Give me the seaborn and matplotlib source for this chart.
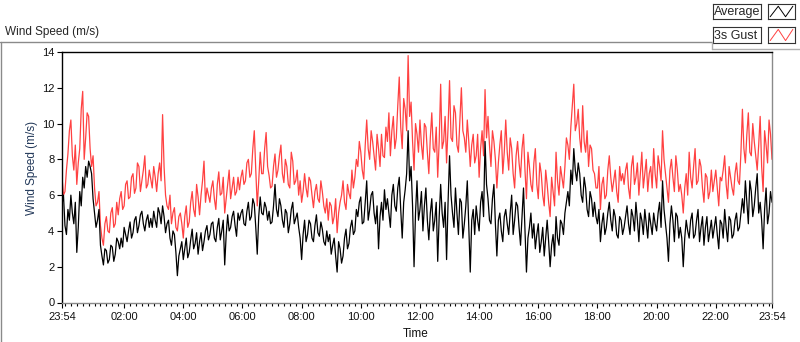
import pandas as pd
import matplotlib
matplotlib.use('Agg')
import matplotlib.pyplot as plt
import matplotlib.dates as mdates
from matplotlib.lines import Line2D
import seaborn as sns

# readings every 3 minutes, 23:54 -> 23:54 next day
start = '2015-06-01 23:54'
step = '3min'

# readings on the 6-minute marks (one row per hour)
avg_a = [
    5.5, 4.3, 5.2, 6.0, 4.4, 2.8, 6.2, 7.0, 7.6, 7.9,
    7.2, 5.0, 4.6, 3.2, 2.1, 2.9, 2.4, 3.1, 2.7, 3.4,
    3.6, 4.2, 3.4, 4.5, 3.9, 4.8, 4.3, 5.1, 4.0, 4.9,
    4.7, 5.1, 4.2, 5.0, 5.4, 3.9, 4.6, 3.2, 3.8, 1.5,
    3.0, 2.4, 3.6, 2.8, 4.1, 3.3, 2.7, 3.9, 3.4, 4.3,
    3.8, 4.5, 3.4, 4.7, 4.0, 2.1, 4.9, 4.2, 5.1, 3.7,
    4.6, 5.2, 4.3, 5.6, 4.8, 5.5, 2.7, 5.9, 4.9, 5.3,
    5.1, 4.5, 6.6, 4.8, 5.4, 4.2, 5.0, 4.4, 5.6, 4.7,
    4.2, 2.4, 4.6, 3.8, 4.4, 3.4, 4.9, 3.7, 4.1, 3.2,
    3.4, 2.7, 3.6, 1.7, 3.0, 2.6, 4.1, 3.3, 4.6, 4.0,
    4.8, 5.9, 4.5, 6.8, 5.2, 6.2, 4.4, 3.0, 5.6, 6.3,
    5.8, 4.2, 6.6, 5.1, 7.0, 3.6, 6.3, 9.6, 7.6, 2.0,
    6.8, 5.2, 4.0, 6.4, 3.5, 5.8, 4.6, 2.3, 6.6, 4.2,
    2.4, 8.2, 5.0, 6.4, 3.8, 5.6, 4.4, 6.8, 1.7, 5.2,
    5.4, 4.0, 6.2, 9.0, 5.8, 4.4, 6.6, 2.6, 5.0, 3.4,
    5.2, 3.8, 6.0, 4.6, 5.4, 3.2, 6.4, 1.7, 4.2, 3.6,
    3.0, 4.4, 3.4, 2.6, 4.6, 2.0, 3.8, 4.8, 3.2, 4.4,
    5.0, 6.2, 7.4, 8.6, 6.8, 7.2, 5.6, 6.4, 4.8, 5.8,
    5.6, 4.4, 3.4, 5.0, 4.2, 5.6, 4.0, 4.8, 3.6, 4.6,
    4.2, 5.4, 3.8, 4.8, 5.6, 3.4, 4.6, 5.2, 3.6, 4.4,
    5.0, 4.0, 5.6, 6.8, 4.4, 2.3, 5.4, 3.4, 4.8, 4.2,
    2.0, 4.6, 3.6, 5.0, 3.8, 5.2, 4.2, 3.2, 4.8, 4.0,
    3.6, 4.8, 3.0, 4.4, 5.2, 3.4, 4.6, 3.8, 5.0, 4.2,
    5.8, 6.8, 4.4, 6.2, 5.4, 7.2, 5.6, 3.0, 6.4, 5.0, 5.6,
]
# readings half way between them
avg_b = [
    6.0, 3.8, 4.6, 5.0, 5.6, 4.2, 5.4, 6.4, 7.0, 7.6,
    5.8, 4.2, 5.2, 2.6, 3.0, 2.2, 3.2, 2.3, 3.6, 3.0,
    3.1, 3.8, 4.0, 3.6, 4.6, 3.9, 4.9, 4.4, 4.6, 4.2,
    4.2, 4.6, 5.3, 4.4, 4.8, 4.4, 3.6, 4.0, 2.8, 2.6,
    3.4, 3.0, 2.5, 3.5, 3.0, 3.9, 3.4, 2.9, 4.0, 3.5,
    4.4, 3.6, 4.2, 3.5, 4.6, 3.8, 4.0, 4.8, 4.3, 5.0,
    5.0, 4.4, 5.1, 4.6, 5.8, 4.2, 4.8, 5.0, 5.6, 4.6,
    4.4, 5.4, 5.2, 5.8, 4.6, 5.2, 3.9, 5.2, 4.4, 5.0,
    3.6, 3.8, 3.4, 4.6, 3.6, 4.3, 3.9, 4.5, 3.4, 4.0,
    3.8, 3.2, 2.6, 3.4, 2.2, 3.6, 3.0, 4.2, 3.8, 5.2,
    5.6, 4.4, 5.6, 4.6, 6.0, 5.0, 5.4, 4.8, 4.6, 5.2,
    5.0, 6.0, 5.4, 6.4, 5.2, 5.6, 7.2, 6.8, 5.4, 5.0,
    4.6, 6.2, 5.4, 4.6, 5.0, 4.0, 5.6, 4.8, 5.0, 5.6,
    5.6, 6.0, 4.2, 5.0, 5.8, 3.6, 5.4, 4.2, 4.6, 3.8,
    4.6, 5.6, 4.8, 6.6, 4.6, 5.8, 4.4, 4.6, 4.0, 4.8,
    4.4, 5.0, 3.8, 5.6, 4.2, 4.8, 4.0, 3.6, 5.0, 4.4,
    3.8, 2.8, 4.2, 3.6, 3.4, 3.2, 2.6, 3.6, 4.6, 3.8,
    5.6, 5.4, 6.6, 7.4, 7.8, 6.0, 7.0, 5.2, 6.2, 4.8,
    4.8, 5.2, 4.4, 3.8, 5.0, 4.6, 5.2, 3.8, 4.8, 3.8,
    4.8, 4.4, 5.2, 4.0, 4.6, 5.0, 3.8, 4.4, 5.0, 3.8,
    4.4, 5.0, 4.2, 5.2, 3.6, 4.4, 4.6, 5.0, 3.6, 3.6,
    3.6, 4.0, 4.6, 3.6, 4.6, 3.4, 4.8, 4.2, 3.4, 4.6,
    4.2, 3.8, 4.6, 3.6, 4.2, 4.8, 3.6, 4.6, 4.0, 5.0,
    5.0, 5.6, 6.8, 4.8, 6.4, 5.0, 4.6, 5.2, 4.4, 6.2,
]

gust_a = [
    7.0, 6.2, 8.3, 10.2, 7.4, 6.6, 8.6, 11.8, 9.2, 10.4,
    7.6, 6.4, 5.6, 4.3, 3.2, 4.8, 3.9, 5.3, 4.4, 4.9,
    6.2, 5.4, 6.8, 5.9, 7.2, 6.4, 7.6, 6.8, 8.2, 6.6,
    6.9, 7.6, 6.2, 7.8, 10.5, 6.0, 5.2, 4.4, 5.3, 4.0,
    5.0, 3.6, 5.4, 4.5, 6.2, 4.8, 5.9, 6.0, 7.9, 6.4,
    5.6, 6.8, 5.2, 7.3, 6.1, 5.0, 6.6, 5.8, 7.0, 6.2,
    6.3, 7.4, 6.8, 8.0, 7.2, 9.6, 5.4, 8.4, 7.2, 9.5,
    7.1, 6.5, 8.3, 7.4, 8.8, 6.7, 7.6, 6.4, 7.9, 6.8,
    6.0, 5.6, 7.2, 5.9, 6.8, 5.3, 6.6, 5.6, 6.2, 5.0,
    4.6, 5.4, 4.8, 3.9, 5.6, 6.8, 5.2, 6.1, 7.4, 7.0,
    7.6, 8.4, 6.9, 10.2, 8.0, 9.0, 7.4, 8.6, 9.4, 8.1,
    9.0, 8.2, 10.4, 9.2, 12.6, 8.6, 10.8, 13.8, 11.2, 7.4,
    9.4, 10.2, 8.0, 9.8, 7.2, 10.6, 8.4, 7.0, 12.2, 9.0,
    7.8, 12.4, 9.0, 10.6, 8.4, 12.0, 9.2, 10.2, 7.6, 9.4,
    8.2, 7.0, 9.6, 11.9, 10.4, 7.6, 9.0, 6.4, 8.8, 7.2,
    10.2, 7.4, 8.6, 6.4, 9.0, 7.0, 9.4, 5.8, 7.6, 6.2,
    8.6, 5.8, 7.2, 5.4, 6.6, 4.8, 6.2, 8.4, 6.0, 7.0,
    7.6, 8.8, 9.8, 12.2, 10.0, 9.2, 11.0, 8.4, 7.6, 8.6,
    7.2, 6.4, 5.2, 7.0, 6.0, 8.2, 6.2, 7.4, 5.6, 6.8,
    6.6, 7.8, 5.8, 8.2, 7.0, 6.0, 8.4, 7.2, 6.2, 7.6,
    8.6, 6.4, 7.6, 9.6, 7.2, 5.6, 8.0, 6.2, 7.4, 6.6,
    5.0, 7.2, 8.4, 6.4, 8.6, 6.8, 7.6, 5.6, 7.0, 6.2,
    6.2, 7.4, 5.4, 6.8, 8.2, 5.8, 7.0, 6.0, 7.8, 6.6,
    10.8, 7.8, 10.6, 8.2, 9.0, 7.4, 10.4, 6.2, 8.8, 10.2, 8.0,
]
gust_b = [
    6.0, 7.4, 9.6, 8.2, 8.8, 7.8, 10.8, 8.0, 10.6, 8.6,
    8.2, 5.4, 6.2, 3.6, 4.4, 4.0, 5.0, 4.2, 5.6, 5.8,
    5.2, 6.6, 5.8, 7.0, 6.1, 7.8, 6.2, 7.4, 6.4, 7.4,
    6.4, 7.0, 7.2, 6.8, 7.6, 5.4, 6.0, 5.0, 4.2, 4.8,
    4.4, 4.8, 4.2, 5.6, 5.2, 6.6, 4.9, 6.8, 5.6, 6.0,
    6.4, 5.8, 6.6, 6.0, 7.0, 5.8, 7.4, 6.4, 6.0, 7.0,
    7.0, 6.6, 7.8, 7.0, 8.6, 7.4, 6.8, 7.2, 8.6, 7.6,
    6.4, 7.6, 7.0, 8.2, 7.2, 8.0, 6.6, 8.4, 6.6, 7.4,
    6.8, 6.2, 6.4, 7.0, 6.0, 6.2, 5.8, 6.8, 5.4, 5.8,
    5.6, 4.4, 5.8, 5.0, 6.0, 5.6, 6.6, 5.8, 6.4, 8.0,
    9.0, 7.4, 8.8, 8.6, 9.6, 8.2, 9.4, 7.6, 8.2, 9.8,
    10.6, 9.6, 8.6, 11.0, 9.8, 11.4, 9.6, 10.4, 9.0, 10.0,
    8.4, 8.8, 10.0, 8.4, 9.2, 8.6, 9.8, 9.0, 8.6, 10.4,
    9.8, 9.2, 11.0, 8.8, 10.2, 9.6, 8.4, 9.0, 8.8, 7.8,
    9.4, 8.6, 8.2, 9.2, 8.8, 9.6, 8.0, 7.8, 9.6, 8.4,
    8.4, 9.2, 7.2, 8.2, 7.8, 8.6, 7.4, 8.4, 6.6, 7.8,
    6.6, 7.8, 6.0, 7.4, 5.6, 7.0, 5.4, 6.8, 7.6, 6.4,
    9.2, 8.0, 11.0, 9.6, 10.8, 8.4, 9.0, 9.6, 8.8, 7.4,
    6.4, 7.6, 6.6, 5.8, 7.4, 7.0, 6.8, 6.2, 7.6, 7.2,
    7.4, 6.4, 7.6, 6.6, 7.8, 7.2, 6.4, 8.0, 7.2, 6.4,
    7.2, 8.2, 6.8, 8.0, 6.4, 7.4, 7.0, 8.2, 6.2, 6.0,
    6.4, 6.0, 7.0, 7.6, 6.6, 8.0, 6.4, 7.2, 5.8, 7.4,
    6.8, 6.4, 7.0, 7.4, 6.6, 7.6, 6.4, 7.2, 6.8, 8.4,
    8.6, 9.4, 8.4, 10.0, 8.2, 8.8, 7.6, 9.6, 7.8, 9.4,
]

tick_times = ['2015-06-01 23:54', '2015-06-02 02:00', '2015-06-02 04:00',
              '2015-06-02 06:00', '2015-06-02 08:00', '2015-06-02 10:00',
              '2015-06-02 12:00', '2015-06-02 14:00', '2015-06-02 16:00',
              '2015-06-02 18:00', '2015-06-02 20:00', '2015-06-02 22:00',
              '2015-06-02 23:54']
tick_labels = ['23:54', '02:00', '04:00', '06:00', '08:00', '10:00', '12:00',
               '14:00', '16:00', '18:00', '20:00', '22:00', '23:54']
y_ticks = [0, 2, 4, 6, 8, 10, 12, 14]
legend_labels = ['Average', '3s Gust']
colors = ['black', '#ff4141']


def weave(a, b):
    out = []
    for i, v in enumerate(a):
        out.append(v)
        if i < len(b):
            out.append(b[i])
    return out


avg = weave(avg_a, avg_b)
gust = weave(gust_a, gust_b)

sns.set_style('white')
plt.rcParams['font.family'] = ['Liberation Sans', 'DejaVu Sans']

df = pd.DataFrame({'time': pd.date_range(start, periods=len(avg), freq=step),
                   'Average': avg, '3s Gust': gust})

W, H = 800, 342
fig = plt.figure(figsize=(W / 100, H / 100), dpi=100)
ax = fig.add_axes([62 / W, 1 - 302.5 / H, 710 / W, 250.5 / H])

# gust first so the average sits on top
sns.lineplot(data=df, x='time', y='3s Gust', color=colors[1], lw=0.9,
             estimator=None, ax=ax)
sns.lineplot(data=df, x='time', y='Average', color=colors[0], lw=0.9,
             estimator=None, ax=ax)

ax.set_xlim(df['time'].iloc[0], df['time'].iloc[-1])
ax.set_ylim(0, 14)
ax.set_yticks(y_ticks)
ax.set_xticks(mdates.date2num(pd.to_datetime(tick_times).to_pydatetime()))
ax.set_xticklabels(tick_labels)
ax.xaxis.set_minor_locator(mdates.MinuteLocator(byminute=[0, 12, 24, 36, 48]))

ax.tick_params(axis='both', which='major', bottom=True, left=True, direction='out',
               length=3.5, width=0.8, color='black', labelsize=8, pad=2,
               labelcolor='#111111')
ax.tick_params(axis='x', which='minor', bottom=True, direction='out',
               length=2, width=0.8, color='black')
ax.tick_params(axis='x', which='major', pad=3)

for side in ['top', 'left']:
    ax.spines[side].set_color('black')
    ax.spines[side].set_linewidth(1.0)
for side in ['bottom', 'right']:
    ax.spines[side].set_color('#8a8a8a')
    ax.spines[side].set_linewidth(1.0)

ax.set_xlabel('Time', fontsize=8.5, color='#111111')
ax.xaxis.set_label_coords(0.4986, -0.102)
ax.set_ylabel('Wind Speed (m/s)', fontsize=8.5, color='#23395a')
ax.yaxis.set_label_coords(-0.034, (302.5 - 168) / 250.5)

# chart title and outer frame
fig.text(5 / W, 1 - 32 / H, 'Wind Speed (m/s)', fontsize=8.5, ha='left', va='center')
fig.add_artist(Line2D([0, 712 / W], [1 - 42 / H, 1 - 42 / H], color='#8a8a8a', lw=1))
fig.add_artist(Line2D([1 / W, 1 / W], [0, 1 - 42 / H], color='#8a8a8a', lw=1))
fig.add_artist(Line2D([712 / W, 712 / W], [1 - 42 / H, 1 - 49 / H], color='#b0b0b0', lw=1))
fig.add_artist(Line2D([712 / W, 1], [1 - 49 / H, 1 - 49 / H], color='#b0b0b0', lw=1))

# legend: label box + line icon per series
rows = [(4, 19), (27, 43)]
for (y0, y1), label, c in zip(rows, legend_labels, colors):
    tb = fig.add_axes([713 / W, 1 - y1 / H, 48 / W, (y1 - y0) / H])
    tb.set_xticks([])
    tb.set_yticks([])
    for s in tb.spines.values():
        s.set_color('#333333')
        s.set_linewidth(0.8)
    tb.text(0.03, 0.45, label, fontsize=9, ha='left', va='center',
            transform=tb.transAxes)
    ib = fig.add_axes([768 / W, 1 - y1 / H, 27 / W, (y1 - y0) / H])
    ib.set_xticks([])
    ib.set_yticks([])
    for s in ib.spines.values():
        s.set_color('#333333')
        s.set_linewidth(0.8)
    ib.plot([0.08, 0.38, 0.65, 0.92], [0.15, 0.85, 0.15, 0.85], color=c, lw=0.7)
    ib.set_xlim(0, 1)
    ib.set_ylim(0, 1)

fig.savefig('out.png', dpi=100)
